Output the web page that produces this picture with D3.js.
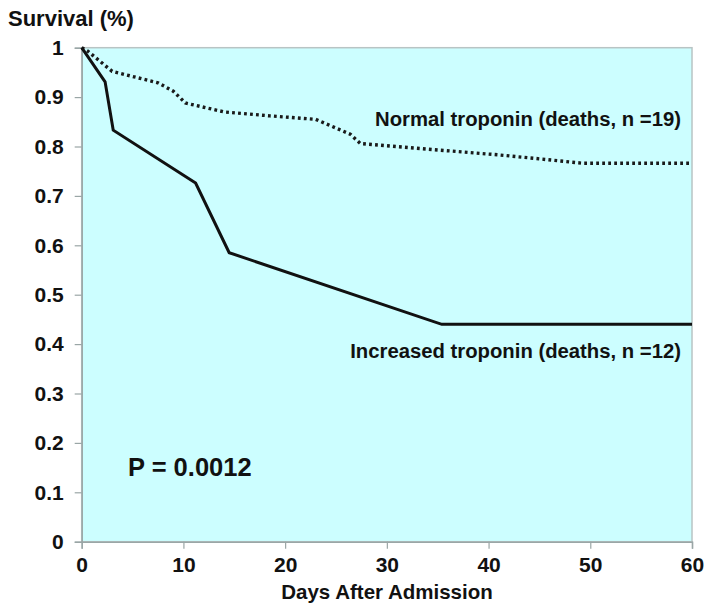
<!DOCTYPE html>
<html><head><meta charset="utf-8">
<script src="https://cdn.jsdelivr.net/npm/d3@7"></script>
<style>body{margin:0;background:#fff;} text{font-family:"Liberation Sans",Arial,sans-serif;font-weight:bold;fill:#111;}</style>
</head><body>
<svg id="c" width="707" height="604"></svg>
<script>
const xTicks = [0,10,20,30,40,50,60];
const yTicks = [0,0.1,0.2,0.3,0.4,0.5,0.6,0.7,0.8,0.9,1];
const increasedDays = [0, 2.3, 3.1, 11.2, 14.5, 35.4, 60];
const increasedSurv = [1, 0.931, 0.833, 0.726, 0.585, 0.44, 0.44];
const normalDays = [0, 0.6, 3.0, 7.5, 9.0, 10.2, 14.0, 18.5, 23.0, 26.4, 27.4, 35.0, 41.0, 45.0, 49.3, 60];
const normalSurv = [1, 0.993, 0.952, 0.929, 0.912, 0.888, 0.870, 0.862, 0.855, 0.825, 0.806, 0.793, 0.783, 0.775, 0.766, 0.766];
const labels = {normal:"Normal troponin (deaths, n =19)", increased:"Increased troponin (deaths, n =12)", p:"P = 0.0012", y:"Survival (%)", x:"Days After Admission"};

const svg = d3.select("#c");
const L=81.7, R=692, T=47.7, B=541.7;
const x = d3.scaleLinear().domain([0,60]).range([L,R]);
const y = d3.scaleLinear().domain([0,1]).range([B,T]);

svg.append("rect").attr("x",L).attr("y",T).attr("width",R-L).attr("height",B-T)
  .attr("fill","#ccfeff").attr("stroke","#b8c4c4").attr("stroke-width",1.5);

const xa = svg.append("g").attr("transform",`translate(0,${B})`)
  .call(d3.axisBottom(x).tickValues(xTicks).tickSize(7).tickPadding(8).tickFormat(d3.format("d")));
const ya = svg.append("g").attr("transform",`translate(${L},0)`)
  .call(d3.axisLeft(y).tickValues(yTicks).tickSize(7).tickPadding(11).tickFormat(d=>d===0||d===1?String(d):d.toFixed(1)));
[xa,ya].forEach(a=>{
  a.selectAll("path").attr("stroke","#9aa6a6").attr("stroke-width",1.5);
  a.selectAll("line").attr("stroke","#9aa6a6").attr("stroke-width",1.2);
  a.selectAll("text").attr("font-size",21).attr("font-family","Liberation Sans, Arial, sans-serif").attr("font-weight","bold").attr("fill","#111");
});

const line = d3.line().x(d=>x(d[0])).y(d=>y(d[1]));
svg.append("path").datum(d3.zip(normalDays,normalSurv)).attr("d",line)
  .attr("fill","none").attr("stroke","#1a1a1a").attr("stroke-width",3.4).attr("stroke-dasharray","2.8,3.2");
svg.append("path").datum(d3.zip(increasedDays,increasedSurv)).attr("d",line)
  .attr("fill","none").attr("stroke","#111").attr("stroke-width",3);

svg.append("text").attr("x",681).attr("y",126).attr("text-anchor","end").attr("font-size",20.3).text(labels.normal);
svg.append("text").attr("x",681).attr("y",358).attr("text-anchor","end").attr("font-size",20.3).text(labels.increased);
svg.append("text").attr("x",128).attr("y",476).attr("font-size",25.5).text(labels.p);
svg.append("text").attr("x",8).attr("y",26).attr("font-size",22).text(labels.y);
svg.append("text").attr("x",387).attr("y",599).attr("text-anchor","middle").attr("font-size",20.5).text(labels.x);
</script>
</body></html>
